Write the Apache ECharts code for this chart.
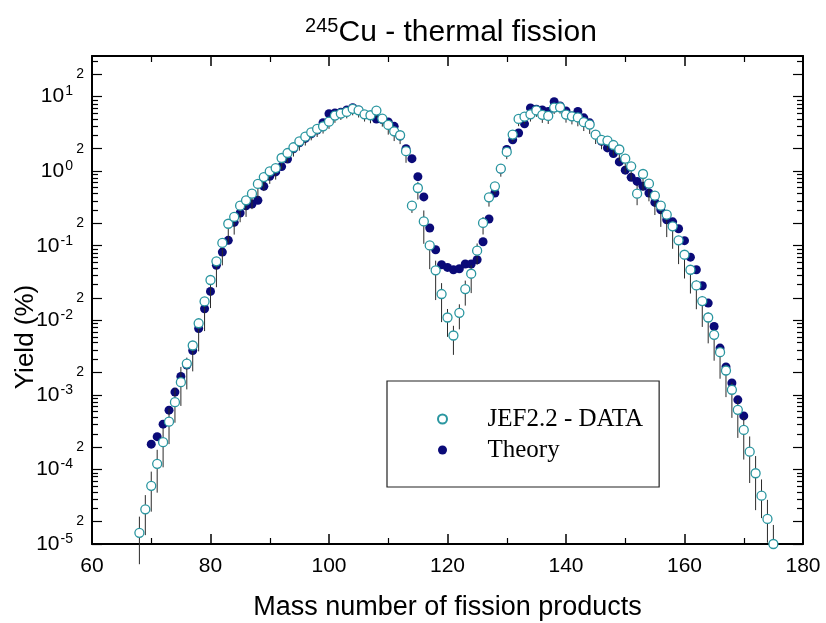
<!DOCTYPE html>
<html>
<head>
<meta charset="utf-8">
<script src="https://cdn.jsdelivr.net/npm/echarts@6/dist/echarts.min.js"></script>
<style>
html, body { margin: 0; padding: 0; background: #fff; }
#chart { width: 826px; height: 623px; }
</style>
</head>
<body>
<div id="chart"></div>
<script>
// JEF2.2 evaluated yields (%), open circles
var jefMass = [68, 69, 70, 71, 72, 73, 74, 75, 76, 77, 78, 79, 80, 81, 82, 83, 84, 85, 86, 87,
	88, 89, 90, 91, 92, 93, 94, 95, 96, 97, 98, 99, 100, 101, 102, 103, 104, 105, 106, 107,
	108, 109, 110, 111, 112, 113, 114, 115, 116, 117, 118, 119, 120, 121, 122, 123, 124, 125, 126, 127,
	128, 129, 130, 131, 132, 133, 134, 135, 136, 137, 138, 139, 140, 141, 142, 143, 144, 145, 146, 147,
	148, 149, 150, 151, 152, 153, 154, 155, 156, 157, 158, 159, 160, 161, 162, 163, 164, 165, 166, 167,
	168, 169, 170, 171, 172, 173, 174, 175];
var jefYield = [1.41e-5, 2.92e-5, 6.03e-5, 1.19e-4, 2.32e-4, 4.37e-4, 7.98e-4, 1.48e-3, 2.63e-3, 4.59e-3,
	9.12e-3, 0.0179, 0.0347, 0.0617, 0.109, 0.197, 0.243, 0.344, 0.406, 0.499,
	0.673, 0.832, 0.993, 1.10, 1.50, 1.75, 2.09, 2.51, 2.90, 3.32,
	3.68, 3.99, 4.61, 5.56, 5.92, 6.22, 6.84, 6.55, 5.78, 5.62,
	6.49, 5.07, 4.17, 3.42, 3.03, 1.85, 0.344, 0.594, 0.212, 0.101,
	0.0467, 0.0225, 0.0109, 0.00625, 0.0126, 0.0262, 0.0421, 0.0857, 0.202, 0.446,
	0.625, 1.08, 1.81, 3.09, 5.01, 5.37, 5.78, 6.52, 5.69, 5.50,
	7.11, 7.19, 5.73, 5.43, 5.25, 4.54, 4.21, 3.08, 2.62, 2.57,
	2.24, 1.95, 1.47, 1.16, 0.499, 0.916, 0.679, 0.469, 0.344, 0.261,
	0.182, 0.118, 0.0757, 0.0476, 0.0293, 0.0181, 0.0109, 0.00638, 0.00374, 0.00212,
	0.00117, 6.30e-4, 3.39e-4, 1.73e-4, 8.89e-5, 4.45e-5, 2.17e-5, 1.0e-5];
// error bar extent, percent above / below the value
var jefErrPlus = [65, 55, 55, 54, 54, 50, 55, 60, 20, 12,
	15, 12, 10, 12, 10, 12, 12, 12, 10, 10,
	10, 12, 10, 10, 10, 9, 9, 8, 8, 8,
	8, 8, 8, 8, 8, 8, 8, 8, 8, 8,
	10, 8, 10, 10, 10, 10, 15, 20, 40, 10,
	35, 40, 30, 35, 30, 30, 30, 25, 20, 12,
	10, 10, 9, 9, 9, 8, 8, 8, 8, 8,
	8, 8, 8, 8, 8, 8, 10, 10, 10, 10,
	10, 10, 12, 12, 30, 12, 12, 14, 14, 14,
	15, 15, 15, 15, 17, 17, 17, 18, 18, 20,
	25, 35, 45, 60, 70, 65, 80, 80];
var jefErrMinus = [62, 55, 55, 59, 54, 50, 47, 52, 55, 55,
	58, 60, 58, 55, 50, 45, 42, 40, 40, 38,
	35, 35, 32, 30, 30, 26, 25, 25, 24, 22,
	22, 20, 20, 20, 18, 18, 18, 20, 20, 22,
	20, 22, 26, 26, 24, 30, 20, 30, 50, 52,
	60, 58, 45, 45, 40, 40, 45, 35, 30, 25,
	22, 22, 20, 20, 20, 20, 20, 18, 22, 22,
	18, 18, 22, 22, 24, 24, 25, 25, 25, 26,
	28, 30, 35, 35, 30, 40, 42, 45, 48, 50,
	50, 52, 52, 52, 52, 55, 55, 55, 56, 56,
	58, 58, 60, 62, 68, 50, 52, 10];

// model calculation (%), filled circles
var theoryMass = [70, 71, 72, 73, 74, 75, 76, 77, 78, 79, 80, 81, 82, 83, 84, 85, 86, 87, 88, 89,
	90, 91, 92, 93, 94, 95, 96, 97, 98, 99, 100, 101, 102, 103, 104, 105, 106, 107, 108, 109,
	110, 111, 112, 113, 114, 115, 116, 117, 118, 119, 120, 121, 122, 123, 124, 125, 126, 127, 128, 129,
	130, 131, 132, 133, 134, 135, 136, 137, 138, 139, 140, 141, 142, 143, 144, 145, 146, 147, 148, 149,
	150, 151, 152, 153, 154, 155, 156, 157, 158, 159, 160, 161, 162, 163, 164, 165, 166, 167, 168, 169,
	170];
var theoryYield = [2.18e-4, 2.75e-4, 4.05e-4, 6.24e-4, 1.09e-3, 1.76e-3, 2.51e-3, 3.94e-3, 7.76e-3, 0.0143,
	0.0244, 0.0545, 0.0822, 0.118, 0.206, 0.275, 0.344, 0.363, 0.406, 0.625,
	0.851, 0.977, 1.15, 1.45, 2.00, 2.40, 2.75, 3.16, 3.55, 4.47,
	5.89, 6.03, 6.17, 6.61, 7.08, 6.61, 5.73, 5.56, 5.01, 4.91,
	4.57, 3.99, 2.95, 2.00, 1.47, 0.843, 0.451, 0.173, 0.0883, 0.0556,
	0.0512, 0.0476, 0.0491, 0.0568, 0.0568, 0.0649, 0.113, 0.228, 0.509, 1.07,
	1.95, 2.63, 3.25, 4.31, 7.05, 6.76, 6.61, 6.31, 8.51, 7.50,
	6.40, 5.50, 6.31, 5.18, 4.44, 3.09, 2.51, 2.05, 1.72, 1.33,
	1.03, 0.826, 0.729, 0.625, 0.509, 0.381, 0.304, 0.223, 0.209, 0.169,
	0.117, 0.0702, 0.0476, 0.0290, 0.0170, 0.00826, 0.00424, 0.00236, 0.00144, 8.57e-4,
	5.22e-4];

// y axis: labelled ticks (decades and 2x), other minor ticks
var yLabelTicks = [1e-5, 2e-5, 1e-4, 2e-4, 1e-3, 2e-3, 1e-2, 2e-2, 1e-1, 2e-1, 1, 2, 10, 20];
var yMinorTicks = [3e-5, 4e-5, 5e-5, 6e-5, 7e-5, 8e-5, 9e-5,
	3e-4, 4e-4, 5e-4, 6e-4, 7e-4, 8e-4, 9e-4,
	3e-3, 4e-3, 5e-3, 6e-3, 7e-3, 8e-3, 9e-3,
	3e-2, 4e-2, 5e-2, 6e-2, 7e-2, 8e-2, 9e-2,
	0.3, 0.4, 0.5, 0.6, 0.7, 0.8, 0.9,
	3, 4, 5, 6, 7, 8, 9, 30];

var FONT = 'Liberation Sans';

var jefData = [], errData = [], theoryData = [];
for (var i = 0; i < jefMass.length; i++) {
	jefData.push([jefMass[i], jefYield[i]]);
	errData.push([jefMass[i], jefYield[i] * (1 - jefErrMinus[i] / 100), jefYield[i] * (1 + jefErrPlus[i] / 100)]);
}
for (var j = 0; j < theoryMass.length; j++) {
	theoryData.push([theoryMass[j], theoryYield[j]]);
}

function yLabel(v) {
	var e = Math.floor(Math.log10(v) + 1e-6);
	var m = Math.round(v / Math.pow(10, e));
	if (m === 1) return '{b|10}{e|' + e + '}';
	return '{s|' + m + '}';
}

function renderErr(params, api) {
	var x = api.value(0);
	var p1 = api.coord([x, api.value(1)]);
	var p2 = api.coord([x, api.value(2)]);
	return {
		type: 'line',
		shape: { x1: p1[0], y1: p1[1], x2: p2[0], y2: p2[1] },
		style: { stroke: '#2a2a2a', lineWidth: 1 }
	};
}

function yAxisBase(pos, ticks, len, main) {
	return {
		type: 'log', logBase: 10, min: 1e-5, max: 35, position: pos,
		axisLine: { show: main, onZero: false, lineStyle: { color: '#000', width: 2 } },
		axisTick: { show: true, inside: true, length: len, customValues: ticks, lineStyle: { color: '#000', width: 1.2 } },
		axisLabel: { show: false },
		splitLine: { show: false },
		minorTick: { show: false }
	};
}

var leftMain = yAxisBase('left', yLabelTicks, 10, true);
leftMain.axisLabel = {
	show: true, customValues: yLabelTicks, formatter: yLabel, margin: 8, color: '#000',
	rich: {
		b: { fontFamily: FONT, fontSize: 21, color: '#000', lineHeight: 24 },
		e: { fontFamily: FONT, fontSize: 14, color: '#000', verticalAlign: 'top', lineHeight: 14, padding: [0, 11, 0, 1] },
		s: { fontFamily: FONT, fontSize: 14, color: '#000' }
	}
};
leftMain.name = 'Yield (%)';
leftMain.nameLocation = 'middle';
leftMain.nameGap = 53;
leftMain.nameMoveOverlap = false;
leftMain.nameTextStyle = { fontFamily: FONT, fontSize: 26, color: '#000', padding: [0, 74, 0, 0] };

var option = {
	backgroundColor: '#fff',
	animation: false,
	title: {
		text: '{s|245}{m|Cu - thermal fission}',
		left: 446, top: 11, textAlign: 'center',
		textStyle: {
			fontWeight: 'normal',
			rich: {
				s: { fontFamily: FONT, fontSize: 20, fontWeight: 'normal', color: '#000', verticalAlign: 'top', lineHeight: 18 },
				m: { fontFamily: FONT, fontSize: 30, fontWeight: 'normal', color: '#000', lineHeight: 34 }
			}
		}
	},
	legend: {
		orient: 'vertical', left: 387, top: 381,
		data: ['JEF2.2 - DATA', 'Theory'],
		itemWidth: 80, itemHeight: 9, itemGap: 5,
		padding: [25, 16, 24, 50],
		borderColor: '#222', borderWidth: 1.2,
		selectedMode: false,
		textStyle: { fontFamily: 'Liberation Serif', fontSize: 25, color: '#000', lineHeight: 26 }
	},
	grid: { left: 92, right: 23, top: 56, bottom: 79, containLabel: false, outerBoundsMode: 'none' },
	xAxis: [{
		type: 'value', min: 60, max: 180, interval: 20, position: 'bottom',
		axisLine: { onZero: false, lineStyle: { color: '#000', width: 2 } },
		axisTick: { inside: true, length: 10, lineStyle: { color: '#000', width: 1.5 } },
		minorTick: { show: true, splitNumber: 2, length: 6, lineStyle: { color: '#000', width: 1.2 } },
		axisLabel: { fontFamily: FONT, fontSize: 21, margin: 12, color: '#000' },
		splitLine: { show: false },
		name: 'Mass number of fission products', nameLocation: 'middle', nameGap: 50,
		nameMoveOverlap: false,
		nameTextStyle: { fontFamily: FONT, fontSize: 27, color: '#000' }
	}, {
		type: 'value', min: 60, max: 180, interval: 20, position: 'top',
		axisLine: { onZero: false, lineStyle: { color: '#000', width: 2 } },
		axisTick: { inside: true, length: 10, lineStyle: { color: '#000', width: 1.5 } },
		minorTick: { show: true, splitNumber: 2, length: 6, lineStyle: { color: '#000', width: 1.2 } },
		axisLabel: { show: false },
		splitLine: { show: false }
	}],
	yAxis: [
		leftMain,
		yAxisBase('left', yMinorTicks, 6, false),
		yAxisBase('right', yLabelTicks, 10, true),
		yAxisBase('right', yMinorTicks, 6, false)
	],
	series: [{
		name: 'Theory', type: 'scatter', data: theoryData,
		symbol: 'circle', symbolSize: 9,
		itemStyle: { color: '#0a0a78', opacity: 1 },
		z: 2
	}, {
		name: 'errors', type: 'custom', data: errData,
		renderItem: renderErr, encode: { x: 0, y: [1, 2] },
		clip: false, silent: true, z: 3
	}, {
		name: 'JEF2.2 - DATA', type: 'scatter', data: jefData,
		symbol: 'circle', symbolSize: 9,
		itemStyle: { color: '#fff', borderColor: '#2a96a0', borderWidth: 1.3, opacity: 1 },
		z: 4
	}]
};

var myChart = echarts.init(document.getElementById('chart'));
myChart.setOption(option);
</script>
</body>
</html>
